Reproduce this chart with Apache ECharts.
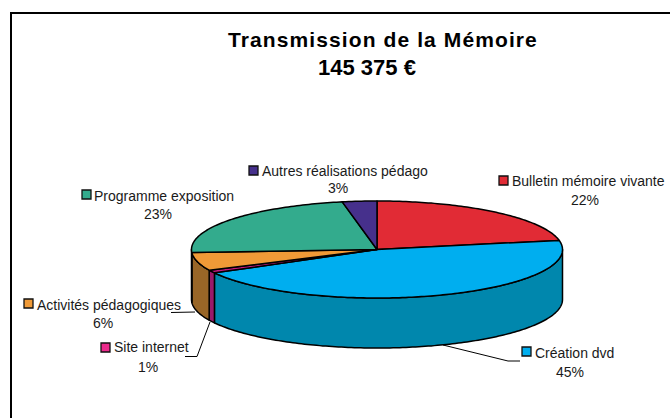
<!DOCTYPE html>
<html>
<head>
<meta charset="utf-8">
<style>
  html, body { margin: 0; padding: 0; background: #fff; }
  #chart { width: 670px; height: 418px; }
  /* title is tracked out in the original */
  svg text[style*="21px"] { letter-spacing: 1.1px; }
</style>
<script src="https://cdn.jsdelivr.net/npm/echarts@6/dist/echarts.min.js"></script>
</head>
<body>
<div id="chart"></div>
<script>
const categories = ['Bulletin mémoire vivante', 'Création dvd', 'Site internet', 'Activités pédagogiques', 'Programme exposition', 'Autres réalisations pédago'];
const shares = [22, 45, 1, 6, 23, 3];
const titleLines = ['Transmission de la Mémoire', '145 375 €'];

const topColors = ['#E12B35', '#00AEEF', '#C4187F', '#F09A37', '#33AB8D', '#46308C'];
const sideColors = ['#8C1A21', '#0087AD', '#991A6B', '#996627', '#1F6B58', '#2C1E58'];
const keyColors = ['#E12B35', '#00AEEF', '#EC2A8C', '#F09A37', '#33AB8D', '#46308C'];

// label blocks: key left, key top, text left, text middle y, percent centre x, percent middle y
const labelBoxes = [
  [499, 176, 512, 181, 585, 200],
  [522, 347, 535, 353, 570, 372],
  [101, 343, 114, 347, 148, 367],
  [24, 299, 37, 305, 103, 323],
  [82, 190, 94, 196, 158, 214],
  [249, 166, 262, 171, 338, 188]
];
const leaders = [
  null,
  [[443, 345], [508, 361], [520, 361]],
  [[185, 356.5], [197, 356.5], [210, 322]],
  [[171, 312.5], [195, 312]],
  null,
  null
];

const cx = 377, cy = 249.5, rx = 185.5, ry = 48.5, depth = 50;
const total = shares.reduce((a, b) => a + b, 0);
const starts = shares.map((_, i) => shares.slice(0, i).reduce((a, b) => a + b, 0));

// degrees clockwise from twelve o'clock, squashed onto the ellipse
function rimPoint(deg, dy) {
  const r = deg * Math.PI / 180;
  return [cx + rx * Math.sin(r), cy - ry * Math.cos(r) + dy];
}

function arcPoints(from, to, dy) {
  const pts = [];
  for (let a = from; a < to; a += 1) pts.push(rimPoint(a, dy));
  pts.push(rimPoint(to, dy));
  return pts;
}

const edge = { stroke: '#000', lineWidth: 1.5, lineJoin: 'round' };

function renderSlice(params, api) {
  const i = api.value(0);
  const from = api.value(1) / total * 360;
  const to = from + api.value(2) / total * 360;
  const children = [];

  // wall, only where the slice faces the viewer
  const a = Math.max(from, 90), b = Math.min(to, 270);
  if (a < b) {
    children.push({
      type: 'polygon',
      shape: { points: arcPoints(a, b, 0).concat(arcPoints(a, b, depth).reverse()) },
      style: Object.assign({ fill: sideColors[i] }, edge)
    });
  }
  children.push({
    type: 'polygon',
    shape: { points: [[cx, cy]].concat(arcPoints(from, to, 0)) },
    style: Object.assign({ fill: topColors[i] }, edge)
  });

  if (leaders[i]) {
    children.push({
      type: 'polyline',
      shape: { points: leaders[i] },
      style: { fill: null, stroke: '#000', lineWidth: 1 }
    });
  }

  const box = labelBoxes[i];
  children.push({
    type: 'rect',
    shape: { x: box[0], y: box[1], width: 9, height: 9 },
    style: { fill: keyColors[i], stroke: '#111', lineWidth: 1.3 }
  });
  children.push({
    type: 'text',
    style: { x: box[2], y: box[3], text: categories[i], fill: '#1a1a1a', font: '14px "Liberation Sans"', align: 'left', verticalAlign: 'middle' }
  });
  children.push({
    type: 'text',
    style: { x: box[4], y: box[5], text: api.value(2) + '%', fill: '#1a1a1a', font: '14px "Liberation Sans"', align: 'center', verticalAlign: 'middle' }
  });
  return { type: 'group', children };
}

const chart = echarts.init(document.getElementById('chart'), null, { renderer: 'svg' });
chart.setOption({
  animation: false,
  backgroundColor: '#fff',
  title: [
    { text: titleLines[0], left: 228, top: 29, padding: 0, textStyle: { fontFamily: 'Liberation Sans', fontSize: 21, fontWeight: 'bold', color: '#000' } },
    { text: titleLines[1], left: 318, top: 56, padding: 0, textStyle: { fontFamily: 'Liberation Sans', fontSize: 22, fontWeight: 'bold', color: '#000' } }
  ],
  graphic: [
    { type: 'polyline', silent: true, shape: { points: [[11, 418], [11, 13], [670, 13]] }, style: { fill: null, stroke: '#000', lineWidth: 2 } }
  ],
  series: [{
    type: 'custom',
    coordinateSystem: 'none',
    silent: true,
    renderItem: renderSlice,
    data: shares.map((s, i) => [i, starts[i], s])
  }]
});
</script>
</body>
</html>
